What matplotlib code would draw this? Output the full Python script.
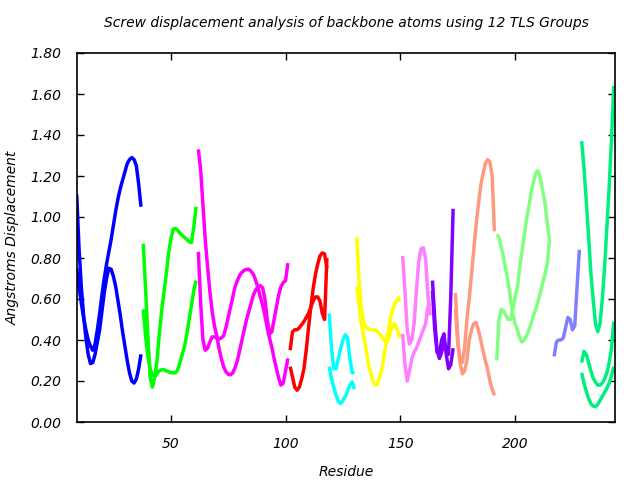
import matplotlib
matplotlib.use("Agg")
import matplotlib.pyplot as plt
from matplotlib import font_manager

# ---- data: (first residue, values per residue) for each TLS group ----
blue_start = 9
blue_a = [1.11,0.85,0.66,0.52,0.41,0.33,0.285,0.29,0.33,0.39,0.45,0.54,0.63,0.70,0.75,0.745,0.71,0.66,0.59,0.52,0.44,0.37,0.30,0.24,0.20,0.19,0.21,0.26,0.33]
blue_b = [0.75,0.66,0.58,0.51,0.45,0.40,0.37,0.35,0.38,0.45,0.53,0.62,0.70,0.77,0.83,0.89,0.96,1.03,1.09,1.14,1.18,1.22,1.26,1.28,1.29,1.28,1.25,1.16,1.05]

green_start = 38
green_a = [0.87,0.65,0.42,0.22,0.17,0.22,0.30,0.43,0.54,0.63,0.72,0.82,0.89,0.94,0.945,0.935,0.92,0.91,0.90,0.89,0.88,0.875,0.95,1.05]
green_b = [0.55,0.42,0.32,0.26,0.23,0.22,0.235,0.25,0.255,0.255,0.25,0.245,0.24,0.24,0.24,0.255,0.29,0.33,0.37,0.43,0.50,0.57,0.64,0.69]

magenta_start = 62
magenta_a = [1.33,1.23,1.06,0.89,0.76,0.64,0.54,0.47,0.42,0.36,0.31,0.27,0.245,0.233,0.23,0.24,0.265,0.30,0.35,0.40,0.45,0.50,0.54,0.58,0.62,0.645,0.66,0.665,0.655,0.60,0.50,0.43,0.44,0.50,0.56,0.62,0.66,0.68,0.69,0.775]
magenta_b = [0.83,0.58,0.40,0.35,0.36,0.39,0.415,0.415,0.41,0.405,0.41,0.42,0.46,0.51,0.56,0.61,0.66,0.69,0.715,0.73,0.74,0.745,0.745,0.735,0.72,0.69,0.655,0.61,0.57,0.52,0.46,0.41,0.365,0.31,0.26,0.215,0.18,0.19,0.25,0.31]

red_start = 102
red_a = [0.35,0.44,0.45,0.45,0.46,0.475,0.49,0.51,0.53,0.56,0.59,0.61,0.61,0.59,0.53,0.50,0.80]
red_b = [0.27,0.22,0.17,0.155,0.17,0.21,0.26,0.35,0.46,0.56,0.65,0.72,0.77,0.81,0.825,0.82,0.75]

cyan_start = 119
cyan_a = [0.53,0.36,0.26,0.26,0.31,0.36,0.40,0.425,0.41,0.31,0.24,0.24]
cyan_b = [0.27,0.21,0.17,0.13,0.10,0.09,0.105,0.125,0.15,0.18,0.195,0.16]

yellow_start = 131
yellow_a = [0.90,0.70,0.55,0.49,0.46,0.455,0.45,0.45,0.45,0.44,0.43,0.415,0.40,0.39,0.41,0.45,0.48,0.47,0.44,0.41]
yellow_b = [0.66,0.57,0.48,0.42,0.36,0.29,0.24,0.20,0.18,0.185,0.22,0.26,0.33,0.40,0.46,0.52,0.56,0.585,0.605,0.59]

pink_start = 151
pink_a = [0.81,0.64,0.45,0.38,0.40,0.48,0.64,0.78,0.845,0.85,0.80,0.62,0.52]
pink_b = [0.43,0.28,0.20,0.25,0.31,0.34,0.36,0.39,0.42,0.45,0.48,0.56,0.58]

purple_start = 164
purple_a = [0.69,0.50,0.35,0.31,0.34,0.39,0.36,0.33,0.62,1.04]
purple_b = [0.64,0.45,0.34,0.33,0.40,0.43,0.33,0.26,0.28,0.36]

salmon_start = 174
salmon_a = [0.63,0.42,0.29,0.235,0.25,0.30,0.40,0.45,0.48,0.485,0.45,0.40,0.35,0.30,0.26,0.20,0.16,0.13]
salmon_b = [0.55,0.38,0.30,0.29,0.36,0.50,0.60,0.72,0.84,0.96,1.06,1.15,1.21,1.26,1.28,1.27,1.20,0.93]

lgreen_start = 192
lgreen_a = [0.30,0.50,0.55,0.54,0.52,0.50,0.50,0.55,0.61,0.66,0.75,0.83,0.91,0.99,1.05,1.12,1.17,1.215,1.225,1.19,1.13,1.07,0.97,0.89]
lgreen_b = [0.915,0.90,0.85,0.80,0.74,0.68,0.60,0.53,0.48,0.45,0.41,0.39,0.40,0.42,0.45,0.48,0.52,0.55,0.59,0.63,0.68,0.72,0.77,0.89]

peri_start = 217
peri_a = [0.32,0.39,0.40,0.40,0.41,0.46,0.51,0.50,0.45,0.47,0.66,0.84]

spring_start = 229
spring_a = [1.37,1.24,1.08,0.91,0.73,0.60,0.48,0.44,0.48,0.60,0.76,0.95,1.15,1.38,1.64]
spring_b = [0.29,0.345,0.33,0.29,0.25,0.215,0.195,0.18,0.18,0.19,0.21,0.24,0.29,0.36,0.49]
spring_c = [0.24,0.19,0.15,0.115,0.09,0.078,0.075,0.085,0.105,0.125,0.145,0.165,0.19,0.225,0.27]

groups = [
    ("#0000ff", blue_start, [blue_a, blue_b]),
    ("#00ff00", green_start, [green_a, green_b]),
    ("#ff00ff", magenta_start, [magenta_a, magenta_b]),
    ("#ff0000", red_start, [red_a, red_b]),
    ("#00ffff", cyan_start, [cyan_a, cyan_b]),
    ("#ffff00", yellow_start, [yellow_a, yellow_b]),
    ("#ff80ff", pink_start, [pink_a, pink_b]),
    ("#8000ff", purple_start, [purple_a, purple_b]),
    ("#ff9a80", salmon_start, [salmon_a, salmon_b]),
    ("#80ff80", lgreen_start, [lgreen_a, lgreen_b]),
    ("#8080ff", peri_start, [peri_a]),
    ("#00f080", spring_start, [spring_a, spring_b, spring_c]),
]

yticks = [0.0, 0.2, 0.4, 0.6, 0.8, 1.0, 1.2, 1.4, 1.6, 1.8]
xticks = [50, 100, 150, 200]

plt.rcParams["font.family"] = ["DejaVu Sans"]
plt.rcParams["font.style"] = "italic"

fig = plt.figure(figsize=(6.4, 4.8), dpi=100)
ax = fig.add_axes([76.7/640, 1-422/480, (615.4-76.7)/640, (422-53)/480])

for color, start, curves in groups:
    for vals in curves:
        xs = list(range(start, start + len(vals)))
        ax.plot(xs, vals, color=color, lw=2.5, solid_joinstyle="round", solid_capstyle="butt")

ax.set_xlim(9, 243.7)
ax.set_ylim(0, 1.8)
ax.set_xticks(xticks)
ax.set_yticks(yticks)
ax.set_yticklabels([f"{v:.2f}" for v in yticks])
ax.tick_params(direction="in", length=5, width=1, top=True, right=True, labelsize=10, pad=11)
for s in ax.spines.values():
    s.set_linewidth(1.2)

ax.set_title("Screw displacement analysis of backbone atoms using 12 TLS Groups", fontsize=10, pad=19)
ax.set_xlabel("Residue", fontsize=10, labelpad=10)
ax.set_ylabel("Angstroms Displacement", fontsize=10, labelpad=8)

fig.savefig("out.png", dpi=100)
